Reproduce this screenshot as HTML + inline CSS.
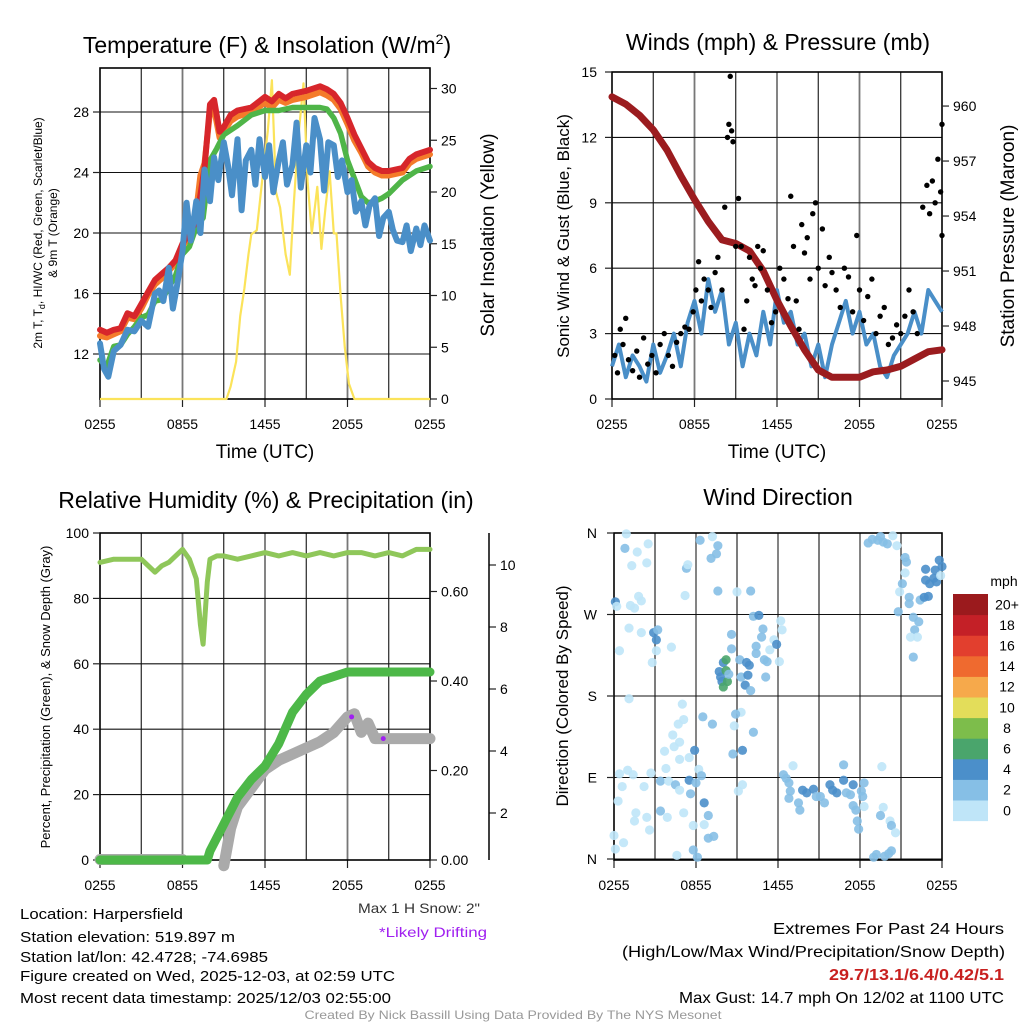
<!DOCTYPE html>
<html><head><meta charset="utf-8"><title>Mesonet Station Chart</title>
<style>
html,body{margin:0;padding:0;background:#fff;}
svg{display:block;font-family:"Liberation Sans",sans-serif;}
</style></head>
<body>
<svg id="chart" width="1024" height="1024" viewBox="0 0 1024 1024" xmlns="http://www.w3.org/2000/svg">
<rect width="1024" height="1024" fill="#fff"/>
<text x="267" y="53" font-size="23" text-anchor="middle">Temperature (F) &amp; Insolation (W/m<tspan dy="-9" font-size="14">2</tspan><tspan dy="9">)</tspan></text>
<text x="778" y="50" font-size="23" text-anchor="middle">Winds (mph) &amp; Pressure (mb)</text>
<text x="266" y="508" font-size="23" text-anchor="middle">Relative Humidity (%) &amp; Precipitation (in)</text>
<text x="778" y="505" font-size="23" text-anchor="middle">Wind Direction</text>

<text x="265" y="458" font-size="19" text-anchor="middle">Time (UTC)</text>
<text x="777" y="458" font-size="19" text-anchor="middle">Time (UTC)</text>
<text transform="translate(42,233) rotate(-90)" font-size="12" text-anchor="middle">2m T, T<tspan font-size="9" dy="3">d</tspan><tspan dy="-3">, HI/WC (Red, Green, Scarlet/Blue)</tspan></text>
<text transform="translate(57,233) rotate(-90)" font-size="12" text-anchor="middle">&amp; 9m T (Orange)</text>
<text transform="translate(494,235) rotate(-90)" font-size="19" text-anchor="middle">Solar Insolation (Yellow)</text>
<text transform="translate(569,236) rotate(-90)" font-size="17" text-anchor="middle">Sonic Wind &amp; Gust (Blue, Black)</text>
<text transform="translate(1014,236) rotate(-90)" font-size="19" text-anchor="middle">Station Pressure (Maroon)</text>
<text transform="translate(50,697) rotate(-90)" font-size="13" text-anchor="middle">Percent, Precipitation (Green), &amp; Snow Depth (Gray)</text>
<text transform="translate(568,696) rotate(-90)" font-size="17" text-anchor="middle">Direction (Colored By Speed)</text>

<text x="480" y="913" font-size="14" text-anchor="end" fill="#333" textLength="122" lengthAdjust="spacingAndGlyphs">Max 1 H Snow: 2"</text>
<text x="487" y="937" font-size="14" text-anchor="end" fill="#a020f0" textLength="108" lengthAdjust="spacingAndGlyphs">*Likely Drifting</text>

<g font-size="15">
<text x="20" y="919" textLength="163" lengthAdjust="spacingAndGlyphs">Location: Harpersfield</text>
<text x="20" y="942" textLength="215" lengthAdjust="spacingAndGlyphs">Station elevation: 519.897 m</text>
<text x="20" y="962" textLength="248" lengthAdjust="spacingAndGlyphs">Station lat/lon: 42.4728; -74.6985</text>
<text x="20" y="981" textLength="375" lengthAdjust="spacingAndGlyphs">Figure created on Wed, 2025-12-03, at 02:59 UTC</text>
<text x="20" y="1003" textLength="371" lengthAdjust="spacingAndGlyphs">Most recent data timestamp: 2025/12/03 02:55:00</text>
</g>
<g font-size="16" text-anchor="end">
<text x="1004" y="934" textLength="231" lengthAdjust="spacingAndGlyphs">Extremes For Past 24 Hours</text>
<text x="1005" y="957" textLength="383" lengthAdjust="spacingAndGlyphs">(High/Low/Max Wind/Precipitation/Snow Depth)</text>
<text x="1004" y="980" fill="#c8201f" font-weight="bold" textLength="175" lengthAdjust="spacingAndGlyphs">29.7/13.1/6.4/0.42/5.1</text>
<text x="1004" y="1003" textLength="325" lengthAdjust="spacingAndGlyphs">Max Gust: 14.7 mph On 12/02 at 1100 UTC</text>
</g>
<text x="513" y="1019" font-size="12" fill="#999" text-anchor="middle" textLength="417" lengthAdjust="spacingAndGlyphs">Created By Nick Bassill Using Data Provided By The NYS Mesonet</text>
<g id="dyn"></g>
</svg>
<script>
// ---------- time axis ----------
const xTickHours = [0, 6, 12, 18, 24];
const xTickLabels = ["0255", "0855", "1455", "2055", "0255"];
const gridHours = [3, 6, 9, 12, 15, 18, 21];

// ---------- Panel 1: temperature ----------
const p1TempTicks = [12, 16, 20, 24, 28];
const p1SolarTicks = [0, 5, 10, 15, 20, 25, 30];
const redHours = [0,0.5,1,1.5,2,2.5,3,3.5,4,4.5,5,5.5,6,6.5,7,7.3,7.6,8,8.3,8.7,9,9.5,10,11,12,12.5,13,13.5,14,15,16,16.5,17,17.5,18,18.5,19,19.5,20,20.5,21,21.5,22,22.5,23,24];
const redTemp  = [13.6,13.4,13.6,13.7,14.7,14.5,15.3,16.1,16.9,17.3,17.7,18.2,19.3,20.0,20.8,22.5,24.3,28.5,28.8,26.7,27.0,27.8,28.1,28.3,29.0,28.7,29.2,28.9,29.2,29.4,29.7,29.5,29.2,28.6,27.6,26.5,25.6,24.7,24.3,24.1,24.1,24.2,24.3,24.9,25.2,25.5];
const orangeTemp = [13.2,13.1,13.3,13.5,14.4,14.3,15.0,15.9,16.6,17.0,17.5,18.0,19.1,19.9,21.5,23.8,24.6,28.0,28.2,26.3,26.7,27.4,27.7,28.0,28.6,28.3,28.8,28.6,28.8,29.0,29.3,29.1,28.8,28.2,27.2,26.1,25.3,24.4,24.0,23.8,23.8,23.9,24.0,24.6,24.9,25.2];
const greenHours = [0,0.5,1,1.5,2,2.5,3,3.5,4,4.5,5,5.5,6,6.5,7,7.5,8,8.5,9,10,11,12,13,14,15,16,16.5,17,17.5,18,18.5,19,19.5,20,20.5,21,22,23,24];
const greenTemp  = [11.6,11.2,12.5,12.6,13.3,13.8,14.4,14.6,15.5,15.6,16.4,17.2,18.6,19.1,20.4,21.0,24.8,25.6,26.5,27.1,27.8,28.1,28.1,28.3,28.3,28.3,28.2,27.6,26.6,24.8,23.6,22.4,22.0,22.1,22.3,22.6,23.5,24.1,24.4];
const blueHours = [0,0.3,0.6,1,1.5,2,2.5,3,3.5,4,4.3,4.6,5,5.3,5.6,6,6.3,6.6,7,7.3,7.6,8,8.3,8.6,9,9.3,9.6,10,10.3,10.6,11,11.3,11.6,12,12.3,12.6,13,13.3,13.6,14,14.3,14.6,15,15.3,15.6,16,16.3,16.6,17,17.3,17.6,18,18.3,18.6,19,19.3,19.6,20,20.3,20.6,21,21.3,21.6,22,22.3,22.6,23,23.3,23.6,24];
const blueTemp  = [12.7,11.0,10.5,12.2,12.6,13.6,13.5,14.2,13.8,16.0,16.2,15.5,17.7,15.0,16.5,18.8,22.0,19.5,22.1,20.0,24.2,22.1,25.0,23.5,26.0,24.5,22.5,26.2,21.5,24.8,25.5,23.2,26.2,23.7,25.8,22.7,24.8,26.0,23.2,24.5,27.3,23.0,25.8,24.0,27.6,26.2,22.8,26.0,25.8,23.7,24.8,22.7,23.5,21.4,22.1,20.5,21.8,22.3,19.8,21.0,21.4,20.2,19.5,19.4,20.5,18.8,20.3,19.2,20.5,19.5];
const solarHours = [0,9.2,9.5,9.9,10.2,10.5,10.8,11.0,11.4,11.9,12.2,12.5,12.8,13.1,13.5,13.8,14.1,14.4,14.8,15.1,15.4,15.8,16.1,16.4,16.7,17.0,17.2,17.5,17.8,18.1,18.5,24];
const solarVals  = [0,0,1.2,3.6,8.0,10.7,14.0,15.9,16.3,22.4,25.9,30.8,20.0,18.5,14.0,12.0,19.0,25.0,30.5,21.0,16.0,20.5,14.5,18.5,22.0,16.0,16.0,10.0,5.0,1.5,0,0];

// ---------- Panel 2: winds & pressure ----------
const p2WindTicks = [0, 3, 6, 9, 12, 15];
const p2PresTicks = [945, 948, 951, 954, 957, 960];
const presHours = [0,1,2,3,4,5,6,7,8,9,10,11,12,13,14,15,16,17,18,19,20,21,22,23,24];
const presVals  = [960.5,960.1,959.5,958.7,957.6,956.2,954.9,953.7,952.7,952.5,952.1,951.0,949.4,948.0,946.7,945.6,945.2,945.2,945.2,945.5,945.6,945.8,946.2,946.6,946.7];
const windHours = [0,0.5,1,1.5,2,2.5,3,3.5,4,4.5,5,5.5,6,6.5,7,7.5,8,8.5,9,9.5,10,10.5,11,11.5,12,12.5,13,13.5,14,14.5,15,15.5,16,16.5,17,17.5,18,18.5,19,19.5,20,20.5,21,21.5,22,22.5,23,23.5,24];
const windVals  = [1.5,2.5,1.0,2.0,1.5,0.8,2.5,1.2,2.0,3.0,1.5,3.5,4.5,3.0,5.5,4.0,5.0,2.5,3.5,1.5,3.0,2.0,4.0,2.5,5.0,3.5,4.0,2.5,3.0,1.5,2.5,1.0,2.5,3.5,4.5,3.0,4.0,2.5,3.0,1.5,1.0,2.0,2.5,3.0,4.0,3.0,5.0,4.5,4.0];
const gustHours = [0.2,0.4,0.6,0.8,1.0,1.2,1.5,1.8,2.0,2.3,2.6,2.9,3.2,3.5,3.8,4.1,4.4,4.7,5.0,5.3,5.6,5.9,6.1,6.3,6.5,6.7,7.0,7.2,7.5,7.7,8.0,8.2,8.4,8.5,8.6,8.7,8.8,9.0,9.2,9.4,9.6,9.8,10.0,10.2,10.4,10.6,10.8,11.0,11.3,11.6,11.9,12.2,12.5,12.8,13.0,13.2,13.4,13.6,13.8,14.0,14.2,14.4,14.6,14.8,15.0,15.3,15.5,15.8,16.0,16.3,16.6,16.9,17.2,17.5,17.8,18.0,18.3,18.6,18.9,19.2,19.5,19.8,20.1,20.4,20.7,21.0,21.3,21.6,21.9,22.2,22.6,22.9,23.1,23.3,23.5,23.7,23.9,24.0,24.0];
const gustVals  = [2.0,1.2,3.2,2.5,3.7,1.8,1.3,2.2,1.0,2.8,1.6,2.0,1.2,2.5,3.0,2.0,1.5,2.6,3.0,3.3,3.2,4.0,5.0,6.3,4.5,5.5,5.0,4.2,5.8,6.5,5.0,8.8,12.0,12.6,14.8,12.3,11.8,7.0,9.2,7.0,3.2,4.5,6.5,5.5,5.2,7.0,6.0,6.8,5.0,3.5,4.0,6.0,5.5,4.6,9.3,7.0,4.5,3.2,8.0,6.7,7.4,5.5,8.5,9.0,6.0,7.8,5.2,6.5,5.8,5.0,4.2,6.0,5.6,4.0,7.5,5.0,3.6,4.7,5.5,3.0,3.8,4.2,2.5,2.8,3.4,3.0,3.8,5.0,4.0,3.0,8.8,9.8,8.5,10.0,9.0,11.0,9.5,12.6,7.5];

// ---------- Panel 3: humidity, precip, snow ----------
const p3PctTicks = [0, 20, 40, 60, 80, 100];
const p3PrecipTicks = [0, 0.2, 0.4, 0.6];
const p3PrecipLabels = ["0.00", "0.20", "0.40", "0.60"];
const p3SnowTicks = [2, 4, 6, 8, 10];
const rhHours = [0,1,2,3,4,4.5,5,6,6.5,7,7.3,7.5,7.8,8,8.5,9,10,11,12,13,14,15,16,17,18,19,20,21,22,23,24];
const rhVals  = [91,92,92,92,88,90,91,95,92,86,72,66,85,92,93,93,92,93,94,93,94,93,94,93,94,94,93,94,93,95,95];
const precipHours = [0,7.8,8,9,10,11,12,13,14,15,16,17,18,24];
const precipVals  = [0,0,0.02,0.08,0.14,0.18,0.21,0.26,0.33,0.37,0.40,0.41,0.42,0.42];
const snowHours = [0,2,4,6,6.3,8.8,9,9.5,10,11,12,13,14,15,16,17,18,18.5,19,19.5,20,21,24];
const snowVals  = [0.5,0.5,0.5,0.5,null,null,0.3,1.5,2.2,2.8,3.4,3.7,3.9,4.1,4.3,4.6,5.1,5.2,4.6,4.9,4.4,4.4,4.4];
const driftHours = [18.3, 20.6];
const driftSnow  = [5.1, 4.4];

// ---------- Panel 4: wind direction ----------
const dirTickDeg = [0, 90, 180, 270, 360];
const dirTickLabels = ["N", "E", "S", "W", "N"];
const speedBins = [0, 2, 4, 6, 8, 10, 12, 14, 16, 18, 20];
const speedBinLabels = ["0", "2", "4", "6", "8", "10", "12", "14", "16", "18", "20+"];
const speedColors = ["#bfe5f8","#86bfe6","#4b8fca","#4aa56c","#7dbd4b","#e3dd5a","#f6a94b","#ef6a2f","#e23f2e","#c42027","#9b1a1d"];
const dirHours = [0.1,0.2,0.4,0.9,0.8,1.7,1.3,2.4,2.5,1.8,2.0,1.2,1.5,1.1,2.0,1.1,0.4,1.0,1.4,0.6,0.3,0.0,0.1,0.7,1.6,1.5,2.2,2.4,2.6,2.7,2.9,3.1,3.2,3.1,2.8,4.2,3.4,3.9,3.4,3.8,4.0,4.3,4.4,3.7,4.7,4.8,4.5,4.8,5.1,4.6,5.3,5.4,5.2,5.0,5.1,4.8,5.5,5.9,5.5,5.6,6.0,6.2,6.4,6.1,5.8,5.8,6.6,6.9,6.6,6.9,7.3,6.3,7.2,7.6,7.5,7.1,7.6,9.0,10.0,6.5,7.2,7.7,8.0,8.2,7.8,7.9,8.2,8.3,8.0,8.4,8.6,8.6,9.2,9.3,9.8,9.6,9.7,10.0,9.9,10.2,10.6,10.9,10.8,10.4,10.4,11.0,11.2,11.1,11.4,11.7,11.9,12.1,12.2,12.3,9.3,8.9,8.8,10.2,8.7,9.4,9.4,9.1,12.4,12.6,12.8,12.9,12.8,13.1,13.5,13.6,13.8,14.1,14.6,14.8,15.1,15.4,15.8,16.0,16.3,16.8,16.8,17.0,17.3,17.5,17.5,17.7,17.8,17.9,18.1,18.3,18.2,18.3,19.6,19.7,19.5,20.2,20.3,20.6,20.3,20.1,19.8,19.0,19.2,18.6,18.9,19.3,19.7,20.0,20.4,20.7,19.5,21.3,21.4,21.3,21.1,20.9,20.8,21.6,21.6,21.9,22.3,22.0,22.2,21.7,21.9,22.4,22.7,22.8,23.0,22.8,23.1,23.4,23.6,23.5,23.8,24.0,23.9];
const dirDegs  = [284,279,230,359,343,339,324,327,348,290,285,280,277,255,250,177,94,98,93,80,64,26,11,18,51,42,80,46,32,95,250,242,253,230,217,234,53,46,86,100,86,137,124,119,149,129,82,76,51,4,321,325,291,171,154,110,112,120,87,72,84,99,92,2,10,37,62,48,38,23,25,352,356,346,337,332,296,295,296,157,149,207,217,220,201,196,208,196,190,204,232,248,220,201,203,192,217,186,214,268,269,254,245,235,227,220,218,201,231,242,237,218,263,253,162,160,147,140,116,120,82,75,93,89,84,75,67,103,62,54,76,73,77,69,69,62,82,76,73,104,87,73,71,82,59,54,42,33,75,84,69,58,102,57,48,42,37,29,9,6,3,2,5,349,353,352,350,348,357,346,356,333,328,316,304,295,273,289,282,267,262,253,245,245,223,286,289,320,290,308,304,310,306,319,330,323,313];
const dirSpeeds = [5,1,1,1,3,1,1,1,1,1,1,1,1,1,1,1,1,1,1,1,1,1,1,1,1,1,1,1,1,1,5,5,3,1,1,1,3,1,3,1,1,1,1,1,1,1,3,1,1,1,3,1,1,1,1,1,1,5,5,3,3,1,3,3,3,1,5,3,1,3,3,3,1,3,3,3,3,1,3,3,3,5,5,7,5,5,7,7,7,3,3,3,3,3,5,5,5,3,5,3,5,3,3,3,3,3,3,3,1,1,5,1,1,1,1,3,1,3,3,5,1,1,3,3,3,3,3,1,3,3,5,5,5,3,3,3,5,5,5,3,5,3,3,5,3,3,3,3,3,3,3,1,1,1,3,1,3,1,3,3,3,3,3,3,3,3,3,3,1,1,3,3,3,1,3,1,3,3,3,3,3,3,1,1,3,3,5,5,5,5,5,5,5,5,5,5];

// ---------- drawing ----------
const NS = "http://www.w3.org/2000/svg";
const root = document.getElementById("dyn");
function mk(tag, attrs, parent) {
  const e = document.createElementNS(NS, tag);
  for (const k in attrs) e.setAttribute(k, attrs[k]);
  (parent || root).appendChild(e);
  return e;
}
function pathFrom(xs, ys, xf, yf) {
  let d = "", pen = false;
  for (let i = 0; i < xs.length; i++) {
    if (ys[i] === null) { pen = false; continue; }
    d += (pen ? "L" : "M") + xf(xs[i]).toFixed(1) + "," + yf(ys[i]).toFixed(1);
    pen = true;
  }
  return d;
}

const P1 = {x0:100, x1:430, y0:68, y1:399};
const P2 = {x0:612, x1:942, y0:72, y1:399};
const P3 = {x0:100, x1:430, y0:533, y1:860};
const P4 = {x0:614, x1:942, y0:533, y1:860};
const xOf = P => h => P.x0 + h * (P.x1 - P.x0) / 24;
const x1 = xOf(P1), x2 = xOf(P2), x3 = xOf(P3), x4 = xOf(P4);
const yTemp = v => 354 - (v - 12) * 15.125;
const ySolar = v => 399 - v * 10.35;
const yWind = v => 399 - v * 21.8;
const yPres = p => 381 - (p - 945) * 18.33;
const yPct = v => 860 - v * 3.27;
const yPrecip = p => 860 - p * 447.5;
const ySnow = s => 875 - s * 31;
const yDir = d => 859 - d * 326 / 360;

function frame(P, xf, hLines, name) {
  const g = mk("g", {});
  
  
  gridHours.forEach(h => {
    const l = mk("line", {x1:xf(h), x2:xf(h), y1:P.y0, y2:P.y1, stroke: (h % 6 === 0) ? "#777" : "#111", "stroke-width": (h % 6 === 0) ? 1.8 : 1.1}, g);
    
    
  });
  hLines.forEach(y => {
    const l = mk("line", {x1:P.x0, x2:P.x1, y1:y, y2:y, stroke:"#111", "stroke-width":1.1}, g);
    
    
  });
  xTickHours.forEach((h, i) => {
    const t = mk("text", {x:xf(h), y:P.y1 + 30, "font-size":14, "text-anchor":"middle"}, g);
    t.textContent = xTickLabels[i];
    
    
    const tk = mk("line", {x1:xf(h), x2:xf(h), y1:P.y1, y2:P.y1 + 8, stroke:"#222", "stroke-width":1.2}, g);
    
    
  });
  const b = mk("rect", {x:P.x0, y:P.y0, width:P.x1 - P.x0, height:P.y1 - P.y0, fill:"none", stroke:"#000", "stroke-width":1.6}, g);
  
  
}
function yLabels(vals, labels, yf, x, anchor, name, extraTick) {
  vals.forEach((v, i) => {
    const t = mk("text", {x:x, y:yf(v) + 5, "font-size":14, "text-anchor":anchor});
    t.textContent = labels ? labels[i] : String(v);
    
    
    if (extraTick) {
      const tk = mk("line", {x1:extraTick[0], x2:extraTick[1], y1:yf(v), y2:yf(v), stroke:"#222", "stroke-width":1.2});
      
      
    }
  });
}

// ---- Panel 1 ----
frame(P1, x1, p1TempTicks.map(yTemp), "p1");
yLabels(p1TempTicks, null, yTemp, 89, "end", "p1-left-tick-label", [P1.x0 - 7, P1.x0]);
yLabels(p1SolarTicks, null, ySolar, 441, "start", "p1-right-tick-label", [P1.x1, P1.x1 + 7]);
let s;
s = mk("path", {d:pathFrom(solarHours, solarVals, x1, ySolar), fill:"none", stroke:"#fbe35a", "stroke-width":2.2, "stroke-linejoin":"round"});


s = mk("path", {d:pathFrom(redHours, orangeTemp, x1, yTemp), fill:"none", stroke:"#f47b2a", "stroke-width":6, "stroke-linejoin":"round", "stroke-linecap":"round"});


s = mk("path", {d:pathFrom(greenHours, greenTemp, x1, yTemp), fill:"none", stroke:"#4fb548", "stroke-width":5.5, "stroke-linejoin":"round", "stroke-linecap":"round"});


s = mk("path", {d:pathFrom(redHours, redTemp, x1, yTemp), fill:"none", stroke:"#d7262b", "stroke-width":6, "stroke-linejoin":"round", "stroke-linecap":"round"});


s = mk("path", {d:pathFrom(blueHours, blueTemp, x1, yTemp), fill:"none", stroke:"#4a8fc8", "stroke-width":6, "stroke-linejoin":"round", "stroke-linecap":"round"});



// ---- Panel 2 ----
frame(P2, x2, p2WindTicks.map(yWind), "p2");
yLabels(p2WindTicks, null, yWind, 597, "end", "p2-left-tick-label", [P2.x0 - 7, P2.x0]);
yLabels(p2PresTicks, null, yPres, 953, "start", "p2-right-tick-label", [P2.x1, P2.x1 + 7]);
s = mk("path", {d:pathFrom(windHours, windVals, x2, yWind), fill:"none", stroke:"#4a8fc8", "stroke-width":4, "stroke-linejoin":"round"});


s = mk("path", {d:pathFrom(presHours, presVals, x2, yPres), fill:"none", stroke:"#9b1c1f", "stroke-width":7, "stroke-linejoin":"round", "stroke-linecap":"round"});


gustHours.forEach((h, i) => {
  const c = mk("circle", {cx:x2(h), cy:yWind(gustVals[i]), r:2.7, fill:"#000"});
  
  
});

// ---- Panel 3 ----
frame(P3, x3, p3PctTicks.map(yPct), "p3");
yLabels(p3PctTicks, null, yPct, 89, "end", "p3-left-tick-label", [P3.x0 - 7, P3.x0]);
yLabels(p3PrecipTicks, p3PrecipLabels, yPrecip, 441, "start", "p3-precip-tick-label", [P3.x1, P3.x1 + 7]);
yLabels(p3SnowTicks, null, ySnow, 500, "start", "p3-snow-tick-label", [489, 496]);
s = mk("line", {x1:489, x2:489, y1:533, y2:860, stroke:"#000", "stroke-width":1.5});


s = mk("path", {d:pathFrom(snowHours, snowVals, x3, ySnow), fill:"none", stroke:"#aaaaaa", "stroke-width":11, "stroke-linejoin":"round", "stroke-linecap":"round"});


s = mk("path", {d:pathFrom(precipHours, precipVals, x3, yPrecip), fill:"none", stroke:"#4db848", "stroke-width":9, "stroke-linejoin":"round", "stroke-linecap":"round"});


s = mk("path", {d:pathFrom(rhHours, rhVals, x3, yPct), fill:"none", stroke:"#8fc75a", "stroke-width":5, "stroke-linejoin":"round", "stroke-linecap":"round"});


driftHours.forEach((h, i) => {
  const c = mk("circle", {cx:x3(h), cy:ySnow(driftSnow[i]), r:2.5, fill:"#a020f0"});
  
  
});

// ---- Panel 4 ----
frame(P4, x4, dirTickDeg.map(yDir), "p4");
yLabels(dirTickDeg, dirTickLabels, yDir, 597, "end", "p4-direction-tick-label", [P4.x0 - 7, P4.x0]);
function speedColor(v) {
  let idx = 0;
  for (let i = 0; i < speedBins.length; i++) if (v >= speedBins[i]) idx = i;
  return speedColors[idx];
}
dirHours.forEach((h, i) => {
  const c = mk("circle", {cx:x4(h), cy:yDir(dirDegs[i]), r:4.6, fill:speedColor(dirSpeeds[i]), "fill-opacity":0.9});
  
  
});
const cbTop = 594, cbH = 20.6, cbX = 953, cbW = 35;
const mphT = mk("text", {x:1004, y:586, "font-size":14, "text-anchor":"middle"});
mphT.textContent = "mph";


speedBinLabels.forEach((lab, i) => {
  const k = speedBinLabels.length - 1 - i;
  const r = mk("rect", {x:cbX, y:cbTop + k * cbH, width:cbW, height:cbH + 0.5, fill:speedColors[i]});
  
  
  const t = mk("text", {x:1007, y:cbTop + k * cbH + cbH / 2 + 5, "font-size":14, "text-anchor":"middle"});
  t.textContent = lab;
  
  
});
</script>
</body></html>
